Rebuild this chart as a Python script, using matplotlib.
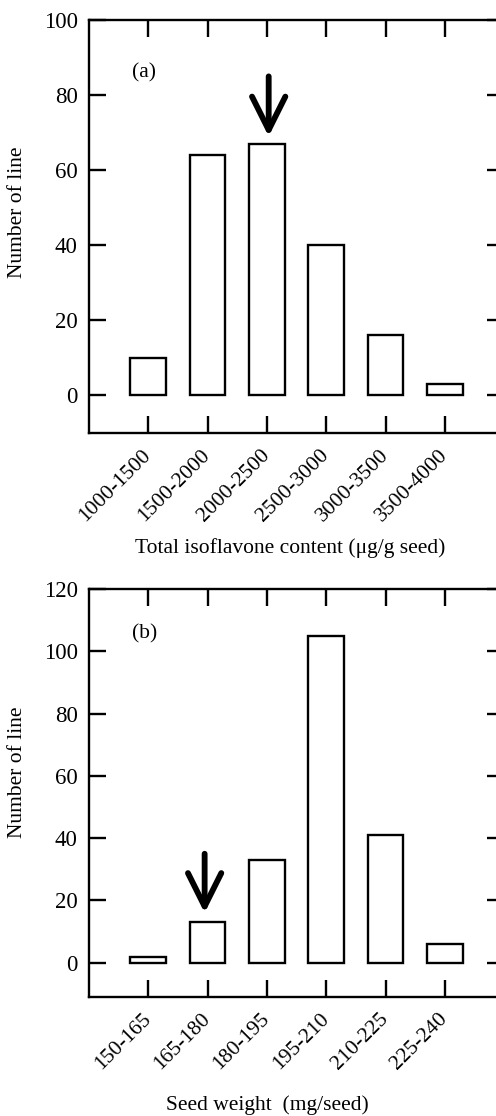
import matplotlib
matplotlib.use("Agg")
import matplotlib.pyplot as plt

plt.rcParams['font.family'] = ['Liberation Serif', 'DejaVu Serif']

iso_bins = ["1000-1500", "1500-2000", "2000-2500", "2500-3000", "3000-3500", "3500-4000"]
iso_counts = [10, 64, 67, 40, 16, 3]

seed_bins = ["150-165", "165-180", "180-195", "195-210", "210-225", "225-240"]
seed_counts = [2, 13, 33, 105, 41, 6]


def draw_panel(ax, bins, counts, ymax, ymin, tag, tag_y, arrow_x, arrow_from, arrow_to,
               xlabel, label_x, label_y, ylab_y):
    x = list(range(len(bins)))
    ax.bar(x, counts, width=0.6, color="white", edgecolor="black", linewidth=1.7)
    ax.set_xlim(-1, 6)
    ax.set_ylim(ymin, ymax)
    ax.set_yticks(range(0, ymax + 1, 20))
    ax.set_xticks(x)
    ax.set_xticklabels(bins, rotation=45, ha="right", va="center", rotation_mode="anchor",
                       fontsize=15.5)
    ax.tick_params(direction="in", length=12, width=1.7, top=True, right=True, pad=8)
    ax.tick_params(axis="y", labelsize=16.5)
    ax.tick_params(axis="x", pad=14)
    for s in ax.spines.values():
        s.set_linewidth(1.7)
    ax.set_ylabel("Number of line", fontsize=15.5)
    ax.yaxis.set_label_coords(-0.15, ylab_y)
    ax.set_xlabel(xlabel, fontsize=15.5)
    ax.xaxis.set_label_coords(label_x, label_y)
    ax.text(-0.27, tag_y, tag, fontsize=15.5, va="center", ha="left")
    ax.annotate("", xy=(arrow_x, arrow_to), xytext=(arrow_x, arrow_from),
                arrowprops=dict(arrowstyle="->,head_length=1.6,head_width=0.8",
                                mutation_scale=15, lw=4.2, color="black",
                                shrinkA=0, shrinkB=0))


fig = plt.figure(figsize=(4.96, 11.16), dpi=100)
ax1 = fig.add_axes([0.1794, 0.612, 0.837, 0.370])
ax2 = fig.add_axes([0.1794, 0.1066, 0.837, 0.3656])

draw_panel(ax1, iso_bins, iso_counts, 100, -10, "(a)", 86, 2.03, 85, 69,
           "Total isoflavone content (\u03bcg/g seed)", 0.484, -0.255, 0.535)
draw_panel(ax2, seed_bins, seed_counts, 120, -11, "(b)", 105.7, 0.95, 35, 16,
           "Seed weight  (mg/seed)", 0.43, -0.24, 0.55)

fig.savefig("out.png", dpi=100)
